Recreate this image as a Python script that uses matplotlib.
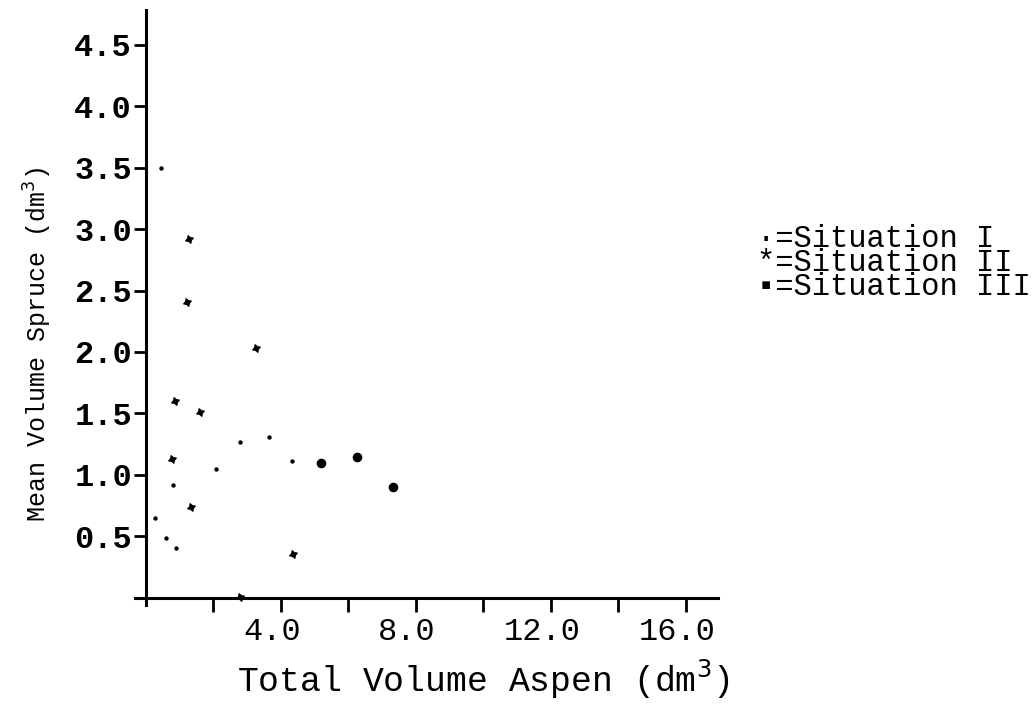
import matplotlib
matplotlib.use("Agg")
import matplotlib.pyplot as plt
from matplotlib.transforms import ScaledTranslation

# Aspen total volume (x) vs. mean spruce volume (y), dm3
sit1_x = [0.44, 2.79, 3.65, 4.34, 2.07, 0.81, 0.26, 0.60, 0.88]
sit1_y = [3.50, 1.27, 1.31, 1.11, 1.05, 0.92, 0.65, 0.49, 0.41]

sit2_x = [1.28, 1.23, 3.26, 0.86, 1.60, 0.76, 1.33, 4.37, 2.79]
sit2_y = [2.92, 2.41, 2.03, 1.60, 1.51, 1.13, 0.74, 0.36, 0.01]

sit3_x = [5.19, 6.26, 7.33]
sit3_y = [1.10, 1.15, 0.90]

y_ticks = [0.5, 1.0, 1.5, 2.0, 2.5, 3.0, 3.5, 4.0, 4.5]
x_ticks = [2, 4, 6, 8, 10, 12, 14, 16]
x_labels = {4: "4.0", 8: "8.0", 12: "12.0", 16: "16.0"}
legend_lines = ["\u00b7=Situation I", "*=Situation II", "\u25aa=Situation III"]

mono = ["Liberation Mono", "DejaVu Sans Mono", "DejaVu Sans"]

fig = plt.figure(figsize=(10.34, 7.04), dpi=100)
ax = fig.add_axes([0.1281, 0.1331, 0.5679, 0.8561])
ax.set_xlim(-0.4, 17.0)
ax.set_ylim(-0.1, 4.8)

for side in ["top", "right"]:
    ax.spines[side].set_visible(False)
ax.spines["left"].set_position(("data", 0))
ax.spines["bottom"].set_position(("data", 0))
ax.spines["left"].set_bounds(-0.06, 4.78)
ax.spines["bottom"].set_bounds(-0.33, 16.95)
for side in ["left", "bottom"]:
    ax.spines[side].set_linewidth(2.2)

ax.scatter(sit1_x, sit1_y, s=10, marker="o", color="black", linewidths=0, zorder=3)
ax.scatter(sit2_x, sit2_y, s=34, marker=(4, 1, 20), color="black", linewidths=0.9, zorder=3)
ax.scatter(sit3_x, sit3_y, s=48, marker="o", color="black", linewidths=0, zorder=3)

ax.set_yticks(y_ticks)
ax.set_yticklabels([f"{v:.1f}" for v in y_ticks], family=mono, fontsize=23,
                   fontweight="bold")
ax.tick_params(axis="y", direction="out", length=9, width=2, pad=1)

ax.set_xticks(x_ticks)
ax.set_xticklabels([x_labels.get(v, "") for v in x_ticks], family=mono, fontsize=23)
ax.tick_params(axis="x", direction="out", length=10, width=2, pad=4)
# typed labels sit a little left of their tick marks
shift = ScaledTranslation(-9 / 100, 0, fig.dpi_scale_trans)
for lbl in ax.get_xticklabels():
    lbl.set_transform(lbl.get_transform() + shift)

fig.text(483 / 1034, 1 - 679 / 704, "Total Volume Aspen (dm$^3$)", family=mono,
         fontsize=25, ha="center", va="center")
fig.text(38 / 1034, 1 - 345 / 704, "Mean Volume Spruce (dm$^3$)", family=mono,
         fontsize=18, rotation=90, ha="center", va="center")

fig.text(757 / 1034, 1 - 263 / 704, "\n".join(legend_lines), family=mono,
         fontsize=22, ha="left", va="center", linespacing=0.75)

fig.savefig("out.png", dpi=100)
